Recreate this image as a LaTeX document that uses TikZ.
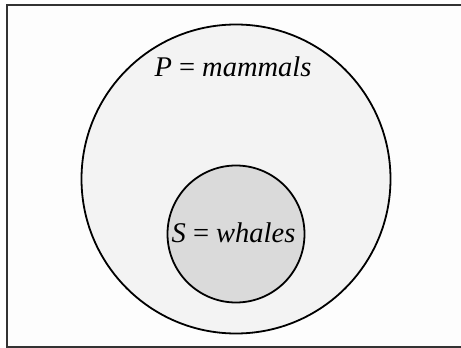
\documentclass[tikz,border=0pt]{standalone}
\usepackage{fontspec}
\setmainfont{Liberation Serif}
\usetikzlibrary{positioning}
\definecolor{FrameGray}{HTML}{333333}
\definecolor{PageWhite}{HTML}{FDFDFD}
\definecolor{OuterGray}{HTML}{F3F3F3}
\definecolor{InnerGray}{HTML}{DADADA}

\begin{document}
\begin{tikzpicture}[
        x=1pt,y=-1pt,
        setcircle/.style={circle,draw=black,line width=1.8pt,inner sep=0pt},
        setlabel/.style={inner sep=0pt,font=\fontsize{28.5}{32}\selectfont\itshape},
        frame/.style={draw=FrameGray,line width=2.4pt}
      ]
        \useasboundingbox (0,0) rectangle (461,348);
        \fill[PageWhite] (7,5) rectangle (470,347);
        \draw[frame] (470,5) -- (7,5) -- (7,347) -- (470,347);
        % outer set and inner set
        \node[setcircle,fill=OuterGray,minimum size=309pt] (mammals) at (236,179) {};
        \node[setcircle,fill=InnerGray,minimum size=137pt] (whales) at (236,234) {};
        \node[setlabel] (mammalslabel) at (233,67) {P {\upshape=} mammals};
        \node[setlabel] (whaleslabel) at (233.5,233) {S {\upshape=} whales};
      \end{tikzpicture}
\end{document}
